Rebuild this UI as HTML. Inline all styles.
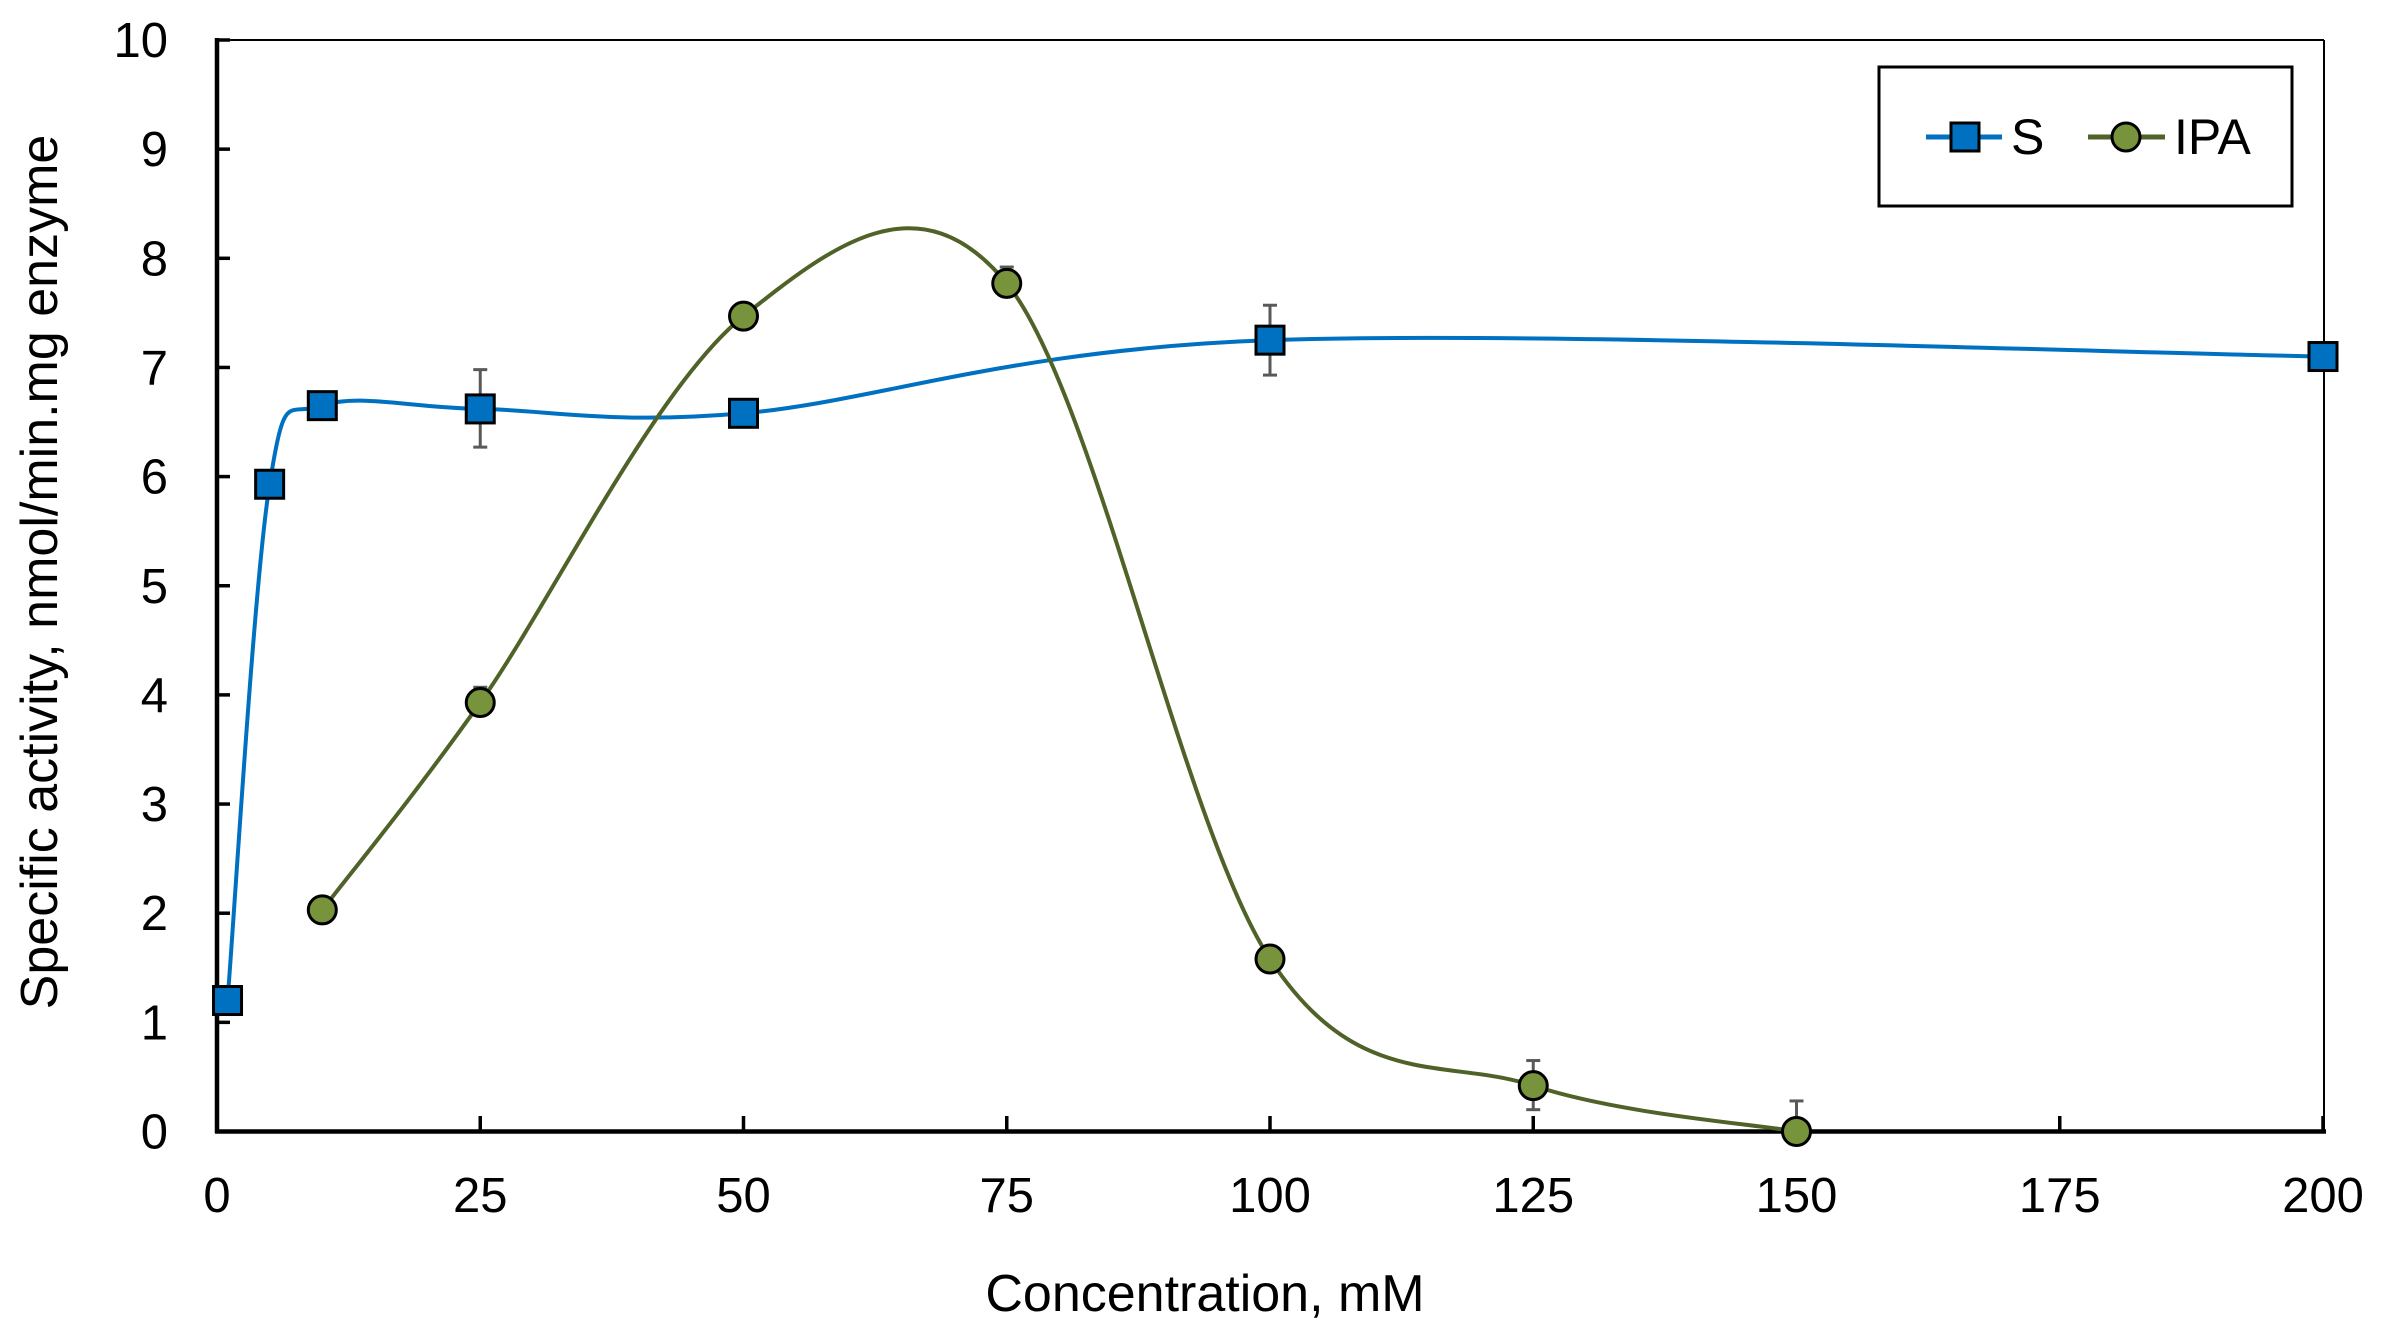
<!DOCTYPE html>
<html><head><meta charset="utf-8"><style>
html,body{margin:0;padding:0;background:#fff;}
svg{display:block;}
text{font-family:"Liberation Sans",Arial,sans-serif;fill:#000;}
</style></head><body>
<svg id="s" width="2381" height="1329" xmlns="http://www.w3.org/2000/svg">
<rect width="2381" height="1329" fill="#fff"/>
<line x1="217" y1="40" x2="2324" y2="40" stroke="#000" stroke-width="2"/>
<line x1="2324" y1="40" x2="2324" y2="1132" stroke="#000" stroke-width="2"/>
<g id="ticks" stroke="#000" stroke-width="3.5"></g>
<line x1="217" y1="38" x2="217" y2="1133" stroke="#000" stroke-width="4.5"/>
<line x1="215" y1="1131.5" x2="2326" y2="1131.5" stroke="#000" stroke-width="4.5"/>
<g id="ylab" font-size="49" text-anchor="end"></g>
<g id="xlab" font-size="49" text-anchor="middle"></g>
<text x="1205" y="1311" font-size="52" text-anchor="middle">Concentration, mM</text>
<text transform="translate(57,572) rotate(-90)" font-size="52" text-anchor="middle">Specific activity, nmol/min.mg enzyme</text>
<g id="err" stroke="#595959" stroke-width="3" fill="none"></g>
<path id="sc" fill="none" stroke="#0070C0" stroke-width="4"/>
<path id="ic" fill="none" stroke="#4F6228" stroke-width="4"/>
<g id="mk"></g>
<rect x="1879" y="67" width="413" height="139" fill="#fff" stroke="#000" stroke-width="3"/>
<line x1="1926" y1="137" x2="2002" y2="137" stroke="#0070C0" stroke-width="5"/>
<rect x="1951" y="123" width="28" height="28" fill="#0070C0" stroke="#000" stroke-width="3"/>
<text x="2011" y="154" font-size="50">S</text>
<line x1="2088" y1="137" x2="2165" y2="137" stroke="#4F6228" stroke-width="5"/>
<circle cx="2126" cy="137" r="14" fill="#77933C" stroke="#000" stroke-width="3"/>
<text x="2174" y="154" font-size="50">IPA</text>
</svg>
<script>
var NS="http://www.w3.org/2000/svg";
function X(v){return 217+10.53*v;}
function Y(v){return 1131.5-109.15*v;}
function el(p,t,a){var e=document.createElementNS(NS,t);for(var k in a)e.setAttribute(k,a[k]);p.appendChild(e);return e;}
var tk=document.getElementById("ticks"),yl=document.getElementById("ylab"),xl=document.getElementById("xlab");
for(var i=0;i<=10;i++){var y=Y(i);if(i>0)el(tk,"line",{x1:217,y1:y,x2:230,y2:y});var t=el(yl,"text",{x:168,y:y+17});t.textContent=i;}
for(var v=0;v<=200;v+=25){var x=X(v);if(v>0)el(tk,"line",{x1:x,y1:1131,x2:x,y2:1116});var t=el(xl,"text",{x:x,y:1212});t.textContent=v;}
function path(pts){var P=pts.map(function(p){return[X(p[0]),Y(p[1])];});var d="M"+P[0][0]+","+P[0][1];
for(var i=0;i<P.length-1;i++){var p0=P[i-1]||P[i],p1=P[i],p2=P[i+1],p3=P[i+2]||P[i+1];
var c1=[p1[0]+(p2[0]-p0[0])/6,p1[1]+(p2[1]-p0[1])/6],c2=[p2[0]-(p3[0]-p1[0])/6,p2[1]-(p3[1]-p1[1])/6];
d+=" C"+c1[0]+","+c1[1]+" "+c2[0]+","+c2[1]+" "+p2[0]+","+p2[1];}return d;}
var S=[[1,1.2],[5,5.93],[10,6.65],[25,6.62],[50,6.58],[100,7.25],[200,7.1]];
var I=[[10,2.03],[25,3.93],[50,7.47],[75,7.77],[100,1.58],[125,0.42],[150,0]];
document.getElementById("sc").setAttribute("d",path(S));
document.getElementById("ic").setAttribute("d",path(I));
var er=document.getElementById("err");
[[25,6.27,6.98],[100,6.93,7.57],[25,3.93,4.07],[75,7.77,7.92],[125,0.2,0.65],[150,0,0.28]].forEach(function(e){var x=X(e[0]);
el(er,"line",{x1:x,y1:Y(e[1]),x2:x,y2:Y(e[2])});el(er,"line",{x1:x-7,y1:Y(e[1]),x2:x+7,y2:Y(e[1])});el(er,"line",{x1:x-7,y1:Y(e[2]),x2:x+7,y2:Y(e[2])});});
var mk=document.getElementById("mk");
I.forEach(function(p){el(mk,"circle",{cx:X(p[0]),cy:Y(p[1]),r:14,fill:"#77933C",stroke:"#000","stroke-width":3});});
S.forEach(function(p){el(mk,"rect",{x:X(p[0])-14,y:Y(p[1])-14,width:28,height:28,fill:"#0070C0",stroke:"#000","stroke-width":3});});
</script>
</body></html>
